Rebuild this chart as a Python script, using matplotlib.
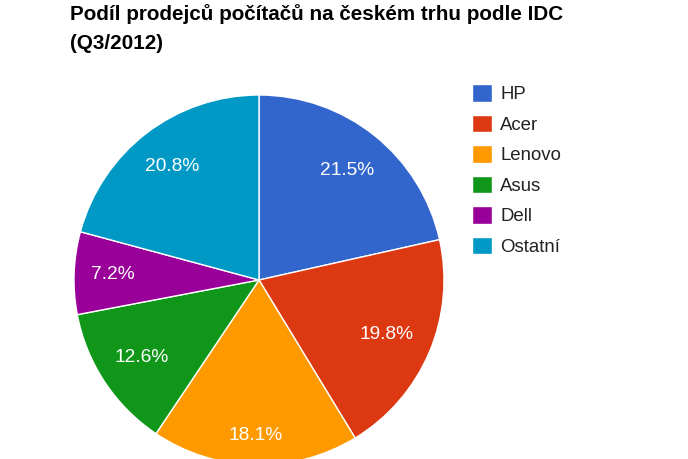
import matplotlib
matplotlib.use('Agg')
from matplotlib import pyplot as plt
import numpy as np

# data
brands = ['HP', 'Acer', 'Lenovo', 'Asus', 'Dell', 'Ostatní']
shares = [21.5, 19.8, 18.1, 12.6, 7.2, 20.8]
colors = ['#3366cc', '#dc3912', '#ff9900', '#109618', '#990099', '#0099c6']
title = 'Podíl prodejců počítačů na českém trhu podle IDC\n(Q3/2012)'

# how far out each percentage label sits (fraction of radius)
label_dist = [0.76, 0.75, 0.84, 0.76, 0.79, 0.77]

plt.rcParams['font.family'] = ['Liberation Sans', 'DejaVu Sans']

W, H = 688, 459
fig = plt.figure(figsize=(W / 100, H / 100), dpi=100)

# pie centre ~ (259, 280) px, radius ~185 px
r = 185
cx, cy = 259, 280
ax = fig.add_axes([(cx - r) / W, (H - cy - r) / H, 2 * r / W, 2 * r / H])
wedges, texts, autotexts = ax.pie(
    shares, colors=colors, startangle=90, counterclock=False,
    autopct='%.1f%%', pctdistance=0.76, radius=1,
    wedgeprops=dict(edgecolor='white', linewidth=1),
    textprops=dict(color='white', fontsize=13.8))
for w, t, d in zip(wedges, autotexts, label_dist):
    ang = np.deg2rad((w.theta1 + w.theta2) / 2)
    t.set_position((d * np.cos(ang), d * np.sin(ang)))
ax.set_xlim(-1, 1)
ax.set_ylim(-1, 1)
ax.set_aspect('equal')
ax.axis('off')

fig.text(70 / W, 1 - 4 / H, title, ha='left', va='top',
         fontsize=14.9, fontweight='bold', color='black', linespacing=1.65)

leg = fig.legend(wedges, brands, loc='upper left',
                 bbox_to_anchor=(463 / W, 1 - 75 / H), frameon=False,
                 fontsize=13.4, handlelength=1.05, handleheight=1.05,
                 handletextpad=0.45, labelspacing=0.62, borderpad=0)
for t in leg.get_texts():
    t.set_color('#222222')

fig.savefig('out.png', dpi=100)
